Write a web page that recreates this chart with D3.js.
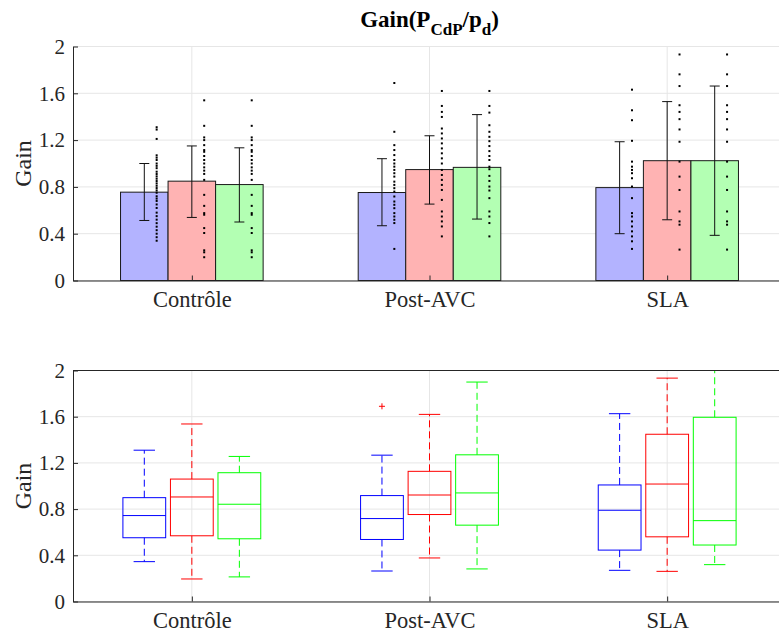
<!DOCTYPE html>
<html><head><meta charset="utf-8">
<script src="https://cdn.jsdelivr.net/npm/d3@7"></script>
<style>body{margin:0;background:#fff}svg{display:block}</style>
</head><body><svg id="c" width="779" height="631"></svg>
<script>
const categories = ["Contrôle", "Post-AVC", "SLA"];
const seriesColors = ["#b3b3ff", "#ffb3b3", "#b3ffb3"];
const boxColors = ["#0000ff", "#ff0000", "#00ff00"];
const yTicks = [0, 0.4, 0.8, 1.2, 1.6, 2];

// bar means per series (Contrôle, Post-AVC, SLA)
const meanBlue  = [0.755, 0.752, 0.794];
const meanRed   = [0.849, 0.948, 1.024];
const meanGreen = [0.820, 0.967, 1.024];
// error bar ends
const errLowBlue  = [0.513, 0.468, 0.400];
const errHighBlue = [1.000, 1.041, 1.186];
const errLowRed   = [0.539, 0.653, 0.519];
const errHighRed  = [1.150, 1.237, 1.529];
const errLowGreen = [0.500, 0.525, 0.386];
const errHighGreen= [1.134, 1.418, 1.662];

// individual points
const dotsControleBlue = [1.31,1.29,1.21,1.07,1.05,1.03,1.0,0.98,0.96,0.93,0.91,0.89,0.87,0.85,0.83,0.81,0.79,0.77,0.75,0.72,0.70,0.68,0.65,0.62,0.58,0.55,0.52,0.49,0.46,0.43,0.40,0.37,0.34];
const dotsControleRed  = [1.54,1.322,1.223,1.2,1.157,1.115,1.1,1.064,1.03,1.0,0.967,0.939,0.911,0.86,0.732,0.638,0.576,0.562,0.448,0.406,0.258,0.241,0.199];
const dotsControleGreen= [1.54,1.322,1.223,1.2,1.157,1.115,1.1,1.064,1.03,1.0,0.967,0.939,0.911,0.86,0.732,0.638,0.576,0.562,0.448,0.406,0.258,0.241,0.199];
const dotsPostBlue  = [1.688,1.271,1.157,1.115,1.072,1.03,1.0,0.973,0.945,0.917,0.888,0.845,0.817,0.789,0.76,0.718,0.675,0.647,0.618,0.576,0.547,0.519,0.491,0.27];
const dotsPostRed   = [1.62,1.492,1.441,1.398,1.299,1.257,1.214,1.172,1.129,1.087,1.044,1.0,0.945,0.902,0.86,0.817,0.774,0.689,0.59,0.547,0.505,0.462,0.377];
const dotsPostGreen = [1.62,1.492,1.435,1.327,1.271,1.228,1.191,1.149,1.106,1.064,1.03,0.973,0.951,0.894,0.851,0.803,0.769,0.704,0.59,0.547,0.491,0.377];
const dotsSLABlue  = [1.631,1.455,1.37,1.194,1.016,0.973,0.945,0.917,0.874,0.803,0.704,0.576,0.547,0.505,0.462,0.42,0.377,0.335,0.27];
const dotsSLARed   = [1.932,1.762,1.662,1.498,1.441,1.379,1.291,1.186,1.016,0.888,0.774,0.59,0.505,0.477,0.264];
const dotsSLAGreen = [1.932,1.762,1.662,1.498,1.441,1.379,1.291,1.186,1.016,0.888,0.774,0.59,0.505,0.477,0.264];

// boxplot stats [lowWhisker, q1, median, q3, highWhisker]
const boxControle = [[0.345,0.552,0.744,0.899,1.31],[0.195,0.569,0.905,1.06,1.537],[0.213,0.543,0.842,1.115,1.256]];
const boxPost     = [[0.264,0.537,0.718,0.917,1.267],[0.377,0.753,0.922,1.127,1.62],[0.282,0.661,0.94,1.27,1.90]];
const boxSLA      = [[0.27,0.445,0.79,1.009,1.626],[0.261,0.56,1.017,1.448,1.934],[0.319,0.489,0.70,1.595,2.2]];
const outliers = [{cat:1, s:0, v:1.69}];

const means = [meanBlue, meanRed, meanGreen];
const errLow = [errLowBlue, errLowRed, errLowGreen];
const errHigh = [errHighBlue, errHighRed, errHighGreen];
const dots = [[dotsControleBlue,dotsControleRed,dotsControleGreen],[dotsPostBlue,dotsPostRed,dotsPostGreen],[dotsSLABlue,dotsSLARed,dotsSLAGreen]];
const boxes = [boxControle, boxPost, boxSLA];

const svg = d3.select("#c");
const L = 73, R = 786;
const x = d3.scaleLinear().domain([0.5, 3.5]).range([L, R]);
const yTop = d3.scaleLinear().domain([0, 2]).range([280.5, 46.5]);
const yBot = d3.scaleLinear().domain([0, 2]).range([601.5, 370.5]);
const axisCol = "#262626", gridCol = "#e6e6e6";
const offs = [-0.2, 0, 0.2];
const SERIF = "Liberation Serif";

function frame(y) {
  const g = svg.append("g");
  yTicks.forEach(t => g.append("line").attr("x1", L).attr("x2", R).attr("y1", y(t)).attr("y2", y(t)).attr("stroke", gridCol).attr("stroke-width", 1));
  categories.forEach((c, i) => g.append("line").attr("x1", x(i+1)).attr("x2", x(i+1)).attr("y1", y(0)).attr("y2", y(2)).attr("stroke", gridCol).attr("stroke-width", 1));
  return g;
}
function axes(y, boxed) {
  const g = svg.append("g");
  const ya = d3.axisLeft(y).tickValues(yTicks).tickFormat(d3.format("")).tickSizeInner(-5).tickSizeOuter(0).tickPadding(8);
  g.append("g").attr("transform", `translate(${L},0)`).call(ya).attr("font-family", SERIF).attr("font-size", 21)
    .call(a => { a.select(".domain").attr("stroke", axisCol); a.selectAll(".tick line").attr("stroke", axisCol);
      a.selectAll("text").attr("fill", axisCol); });
  const xa = d3.axisBottom(x).tickValues([1,2,3]).tickFormat(d => categories[d-1]).tickSizeInner(-5).tickSizeOuter(0).tickPadding(11);
  g.append("g").attr("transform", `translate(0,${y(0)})`).call(xa).attr("font-family", SERIF).attr("font-size", 22.5)
    .call(a => { a.select(".domain").attr("stroke", axisCol); a.selectAll(".tick line").attr("stroke", axisCol);
      a.selectAll("text").attr("fill", axisCol); });
  if (boxed) {
    g.append("line").attr("x1", L).attr("x2", R).attr("y1", y(2)).attr("y2", y(2)).attr("stroke", axisCol);
  }
  const ym = (y(0) + y(2)) / 2;
  g.append("text").attr("transform", `translate(31,${ym}) rotate(-90)`).attr("text-anchor", "middle")
    .attr("font-size", 24).attr("font-family", SERIF).attr("fill", axisCol).text("Gain");
}

// ---- top panel ----
frame(yTop);
const bw = x(1.2) - x(1.0);
const gb = svg.append("g");
categories.forEach((c, i) => {
  [0,1,2].forEach(s => {
    const cx = x(i + 1 + offs[s]);
    gb.append("rect").attr("x", cx - bw/2).attr("width", bw)
      .attr("y", yTop(means[s][i])).attr("height", yTop(0) - yTop(means[s][i]))
      .attr("fill", seriesColors[s]).attr("stroke", "#1a1a1a").attr("stroke-width", 1);
  });
});
categories.forEach((c, i) => {
  [0,1,2].forEach(s => {
    const cx = x(i + 1 + offs[s]);
    const lo = yTop(errLow[s][i]), hi = yTop(errHigh[s][i]);
    gb.append("line").attr("x1", cx).attr("x2", cx).attr("y1", lo).attr("y2", hi).attr("stroke", "#111").attr("stroke-width", 1);
    [lo, hi].forEach(yy => gb.append("line").attr("x1", cx-5).attr("x2", cx+5).attr("y1", yy).attr("y2", yy).attr("stroke", "#111").attr("stroke-width", 1));
    const dx = x(i + 1 + offs[s] + 0.052);
    dots[i][s].forEach(v => gb.append("rect").attr("x", dx - 1).attr("y", yTop(v) - 1).attr("width", 2).attr("height", 2).attr("fill", "#000"));
  });
});
axes(yTop, false);

// title
const title = svg.append("text").attr("x", x(2)).attr("y", 27).attr("text-anchor", "middle")
  .attr("font-weight", "bold").attr("font-size", 23).attr("font-family", SERIF).attr("fill", "#000");
title.append("tspan").text("Gain(P");
title.append("tspan").attr("font-size", 17).attr("dy", 8).text("CdP");
title.append("tspan").attr("dy", -8).text("/p");
title.append("tspan").attr("font-size", 17).attr("dy", 8).text("d");
title.append("tspan").attr("dy", -8).text(")");

// ---- bottom panel ----
frame(yBot);
svg.append("clipPath").attr("id", "clipB").append("rect").attr("x", L).attr("y", yBot(2)).attr("width", R - L).attr("height", yBot(0) - yBot(2));
const gx = svg.append("g").attr("clip-path", "url(#clipB)");
const boxW = x(1.18) - x(1.0);
const capW = boxW / 2;
categories.forEach((c, i) => {
  [0,1,2].forEach(s => {
    const [lw, q1, med, q3, hw] = boxes[i][s];
    const cx = x(i + 1 + offs[s]);
    const col = boxColors[s];
    gx.append("line").attr("x1", cx).attr("x2", cx).attr("y1", yBot(q3)).attr("y2", yBot(hw)).attr("stroke", col).attr("stroke-dasharray", "7,4");
    gx.append("line").attr("x1", cx).attr("x2", cx).attr("y1", yBot(q1)).attr("y2", yBot(lw)).attr("stroke", col).attr("stroke-dasharray", "7,4");
    [lw, hw].forEach(v => gx.append("line").attr("x1", cx - capW/2).attr("x2", cx + capW/2).attr("y1", yBot(v)).attr("y2", yBot(v)).attr("stroke", col));
    gx.append("rect").attr("x", cx - boxW/2).attr("width", boxW).attr("y", yBot(q3)).attr("height", yBot(q1) - yBot(q3))
      .attr("fill", "none").attr("stroke", col);
    gx.append("line").attr("x1", cx - boxW/2).attr("x2", cx + boxW/2).attr("y1", yBot(med)).attr("y2", yBot(med)).attr("stroke", col);
  });
});
outliers.forEach(o => {
  const cx = x(o.cat + 1 + offs[o.s]), cy = yBot(o.v);
  gx.append("path").attr("d", `M${cx-3},${cy}H${cx+3}M${cx},${cy-3}V${cy+3}`).attr("stroke", "#ff0000");
});
axes(yBot, true);
</script></body></html>
